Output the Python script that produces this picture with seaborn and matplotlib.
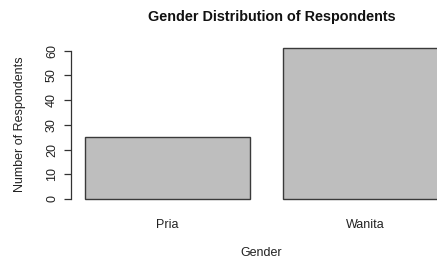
import pandas as pd
import matplotlib
matplotlib.use("Agg")
import matplotlib.pyplot as plt
import seaborn as sns

# data
genders = ["Pria", "Wanita"]
counts = [25, 61]
y_ticks = [0, 10, 20, 30, 40, 50, 60]

sns.set_style("white")
plt.rcParams['font.family'] = ['Liberation Sans', 'DejaVu Sans']

df = pd.DataFrame({"Gender": genders, "Count": counts})

W, H = 437, 260
fig = plt.figure(figsize=(W / 100, H / 100), dpi=100)
# plot region placed like R's base graphics (it runs past the right edge)
left, right, top, bottom = 70.5, 462.5, 42.3, 205.0
ax = fig.add_axes([left / W, 1 - bottom / H, (right - left) / W, (bottom - top) / H])

sns.barplot(data=df, x="Gender", y="Count", color="#bebebe", saturation=1,
            width=1 / 1.2, edgecolor="#3a3a3a", linewidth=1.0, ax=ax)

ax.set_xlim(-0.49, 1.49)
ax.set_ylim(-2.44, 63.44)
for s in ["top", "right", "bottom"]:
    ax.spines[s].set_visible(False)
ax.spines["left"].set_bounds(0, 60)
ax.spines["left"].set_color("#333333")
ax.spines["left"].set_linewidth(0.9)

ax.set_yticks(y_ticks)
ax.set_yticklabels([str(t) for t in y_ticks], rotation=90, va="center",
                   fontsize=9, color="#222222")
ax.tick_params(axis="y", left=True, length=5, width=0.9, color="#333333", pad=4)
ax.tick_params(axis="x", bottom=False, pad=6.5, labelsize=9, labelcolor="#222222")
ax.set_xlabel("")
ax.set_ylabel("")

fig.text(272 / W, 1 - 17 / H, "Gender Distribution of Respondents",
         ha="center", va="center", fontsize=10.4, fontweight="bold", color="#111111")
fig.text(261.5 / W, 1 - 253 / H, "Gender", ha="center", va="center",
         fontsize=9, color="#222222")
fig.text(20 / W, 1 - 124 / H, "Number of Respondents", ha="center", va="center",
         rotation=90, fontsize=9, color="#222222")

fig.savefig("out.png", dpi=100)
